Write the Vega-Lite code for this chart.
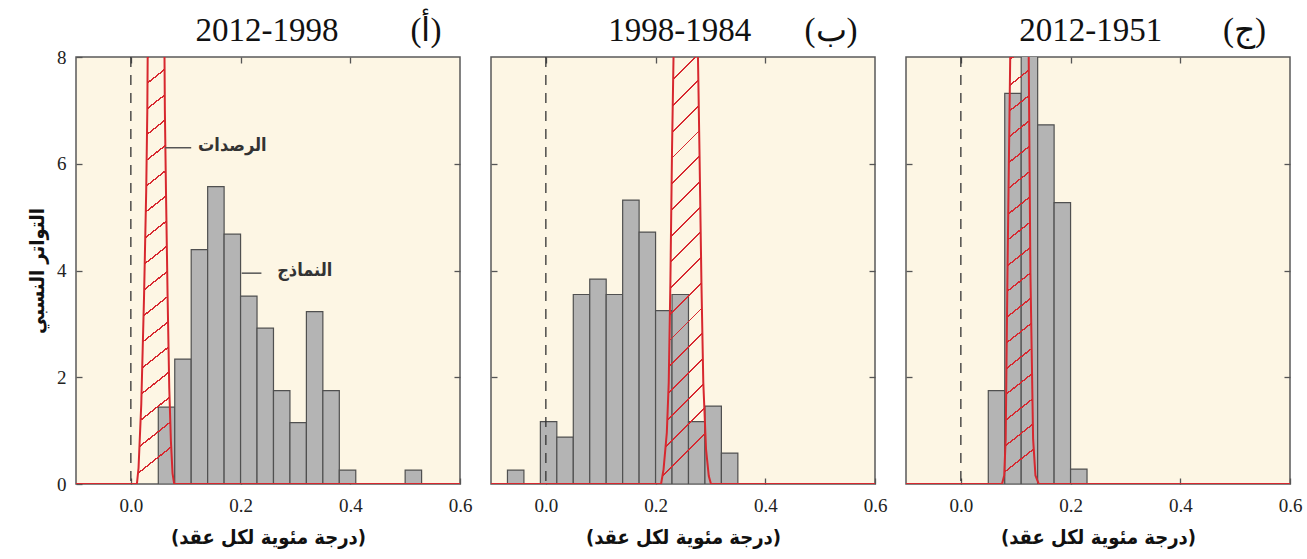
{
  "$schema": "https://vega.github.io/schema/vega-lite/v6.json",
  "padding": {"left": 26, "top": 14, "right": 5, "bottom": 5},
  "background": "white",
  "datasets": {
    "bars": [
      {"panel": "a", "x0": 0.05, "x1": 0.08, "freq": 1.44},
      {"panel": "a", "x0": 0.08, "x1": 0.11, "freq": 2.34},
      {"panel": "a", "x0": 0.11, "x1": 0.14, "freq": 4.39},
      {"panel": "a", "x0": 0.14, "x1": 0.17, "freq": 5.57},
      {"panel": "a", "x0": 0.17, "x1": 0.20, "freq": 4.68},
      {"panel": "a", "x0": 0.20, "x1": 0.23, "freq": 3.52},
      {"panel": "a", "x0": 0.23, "x1": 0.26, "freq": 2.92},
      {"panel": "a", "x0": 0.26, "x1": 0.29, "freq": 1.75},
      {"panel": "a", "x0": 0.29, "x1": 0.32, "freq": 1.15},
      {"panel": "a", "x0": 0.32, "x1": 0.35, "freq": 3.23},
      {"panel": "a", "x0": 0.35, "x1": 0.38, "freq": 1.75},
      {"panel": "a", "x0": 0.38, "x1": 0.41, "freq": 0.26},
      {"panel": "a", "x0": 0.50, "x1": 0.53, "freq": 0.26},
      {"panel": "b", "x0": -0.07, "x1": -0.04, "freq": 0.26},
      {"panel": "b", "x0": -0.01, "x1": 0.02, "freq": 1.17},
      {"panel": "b", "x0": 0.02, "x1": 0.05, "freq": 0.88},
      {"panel": "b", "x0": 0.05, "x1": 0.08, "freq": 3.55},
      {"panel": "b", "x0": 0.08, "x1": 0.11, "freq": 3.84},
      {"panel": "b", "x0": 0.11, "x1": 0.14, "freq": 3.55},
      {"panel": "b", "x0": 0.14, "x1": 0.17, "freq": 5.32},
      {"panel": "b", "x0": 0.17, "x1": 0.20, "freq": 4.72},
      {"panel": "b", "x0": 0.20, "x1": 0.23, "freq": 3.25},
      {"panel": "b", "x0": 0.23, "x1": 0.26, "freq": 3.55},
      {"panel": "b", "x0": 0.26, "x1": 0.29, "freq": 1.17},
      {"panel": "b", "x0": 0.29, "x1": 0.32, "freq": 1.46},
      {"panel": "b", "x0": 0.32, "x1": 0.35, "freq": 0.58},
      {"panel": "c", "x0": 0.05, "x1": 0.08, "freq": 1.75},
      {"panel": "c", "x0": 0.08, "x1": 0.11, "freq": 7.32},
      {"panel": "c", "x0": 0.11, "x1": 0.14, "freq": 8.6},
      {"panel": "c", "x0": 0.14, "x1": 0.17, "freq": 6.73},
      {"panel": "c", "x0": 0.17, "x1": 0.20, "freq": 5.27},
      {"panel": "c", "x0": 0.20, "x1": 0.23, "freq": 0.28}
    ],
    "obs": [
      {"panel": "a", "x": -0.1, "y": 0},
      {"panel": "a", "x": 0.011, "y": 0},
      {"panel": "a", "x": 0.014, "y": 0.3},
      {"panel": "a", "x": 0.019, "y": 1.5},
      {"panel": "a", "x": 0.024, "y": 3.5},
      {"panel": "a", "x": 0.028, "y": 5.5},
      {"panel": "a", "x": 0.030, "y": 7},
      {"panel": "a", "x": 0.031, "y": 8.5},
      {"panel": "a", "x": 0.061, "y": 8.5},
      {"panel": "a", "x": 0.062, "y": 7},
      {"panel": "a", "x": 0.064, "y": 5.5},
      {"panel": "a", "x": 0.067, "y": 3.5},
      {"panel": "a", "x": 0.070, "y": 1.8},
      {"panel": "a", "x": 0.073, "y": 0.8},
      {"panel": "a", "x": 0.076, "y": 0.2},
      {"panel": "a", "x": 0.079, "y": 0},
      {"panel": "a", "x": 0.6, "y": 0},
      {"panel": "b", "x": -0.1, "y": 0},
      {"panel": "b", "x": 0.210, "y": 0},
      {"panel": "b", "x": 0.2145, "y": 0.27},
      {"panel": "b", "x": 0.2205, "y": 0.96},
      {"panel": "b", "x": 0.224, "y": 1.9},
      {"panel": "b", "x": 0.227, "y": 3.77},
      {"panel": "b", "x": 0.230, "y": 6.26},
      {"panel": "b", "x": 0.2335, "y": 8.5},
      {"panel": "b", "x": 0.2765, "y": 8.5},
      {"panel": "b", "x": 0.280, "y": 6.26},
      {"panel": "b", "x": 0.2836, "y": 3.77},
      {"panel": "b", "x": 0.287, "y": 1.9},
      {"panel": "b", "x": 0.292, "y": 0.65},
      {"panel": "b", "x": 0.297, "y": 0.15},
      {"panel": "b", "x": 0.301, "y": 0},
      {"panel": "b", "x": 0.6, "y": 0},
      {"panel": "c", "x": -0.1, "y": 0},
      {"panel": "c", "x": 0.075, "y": 0},
      {"panel": "c", "x": 0.079, "y": 0.16},
      {"panel": "c", "x": 0.0817, "y": 0.84},
      {"panel": "c", "x": 0.085, "y": 3.96},
      {"panel": "c", "x": 0.0906, "y": 8.5},
      {"panel": "c", "x": 0.1233, "y": 8.5},
      {"panel": "c", "x": 0.1268, "y": 3.96},
      {"panel": "c", "x": 0.1317, "y": 0.84},
      {"panel": "c", "x": 0.136, "y": 0.16},
      {"panel": "c", "x": 0.142, "y": 0},
      {"panel": "c", "x": 0.6, "y": 0}
    ],
    "leaders": [
      {"x": 0.062, "x2": 0.110, "y": 6.3},
      {"x": 0.202, "x2": 0.238, "y": 3.95}
    ],
    "notes": [
      {"text": "الرصدات", "x": 0.185, "y": 6.34},
      {"text": "النماذج", "x": 0.317, "y": 3.99}
    ],
    "heads": [
      {"panel": "a", "text": "2012-1998", "x": 0.248, "y": 8.48},
      {"panel": "a", "text": "(أ)", "x": 0.538, "y": 8.48},
      {"panel": "b", "text": "1998-1984", "x": 0.244, "y": 8.48},
      {"panel": "b", "text": "(ب)", "x": 0.52, "y": 8.48},
      {"panel": "c", "text": "2012-1951", "x": 0.237, "y": 8.48},
      {"panel": "c", "text": "(ج)", "x": 0.517, "y": 8.48}
    ]
  },
  "spacing": 31,
  "bounds": "flush",
  "hconcat": [
    {
      "width": 384, "height": 427,
      "resolve": {"axis": {"x": "independent", "y": "independent"}},
      "layer": [
        {
          "data": {"name": "bars"},
          "transform": [{"filter": "datum.panel == 'a'"}],
          "mark": {"type": "rect", "fill": "#b4b4b4", "stroke": "#505050", "strokeWidth": 1.2, "clip": true},
          "encoding": {
            "x": {"field": "x0", "type": "quantitative", "scale": {"domain": [-0.1, 0.6], "nice": false, "zero": false}, "axis": {"orient": "bottom", "values": [0, 0.2, 0.4, 0.6], "format": ".1f", "title": "(درجة مئوية لكل عقد)"}},
            "x2": {"field": "x1"},
            "y": {"field": "freq", "type": "quantitative", "scale": {"domain": [0, 8], "nice": false}, "axis": {"orient": "left", "values": [0, 2, 4, 6, 8], "title": "التواتر النسبي"}},
            "y2": {"datum": 0}
          }
        },
        {
          "data": {"values": [{}]},
          "mark": {"type": "rule", "strokeDash": [10, 8], "color": "#333333", "strokeWidth": 1.3},
          "encoding": {"x": {"datum": 0, "type": "quantitative", "axis": null}}
        },
        {
          "data": {"name": "obs"},
          "transform": [{"filter": "datum.panel == 'a' && datum.x > -0.1 && datum.x < 0.6"}],
          "mark": {"type": "area", "clip": true, "fill": {"gradient": "linear", "x1": 0, "y1": 0, "x2": 0.065, "y2": 1, "stops": [
            {"offset": 0, "color": "rgba(215,40,47,0)"},
            {"offset": 0.02, "color": "rgba(215,40,47,0)"}, {"offset": 0.02, "color": "#d7282f"}, {"offset": 0.024, "color": "#d7282f"}, {"offset": 0.024, "color": "rgba(215,40,47,0)"},
            {"offset": 0.076, "color": "rgba(215,40,47,0)"}, {"offset": 0.076, "color": "#d7282f"}, {"offset": 0.08, "color": "#d7282f"}, {"offset": 0.08, "color": "rgba(215,40,47,0)"},
            {"offset": 0.132, "color": "rgba(215,40,47,0)"}, {"offset": 0.132, "color": "#d7282f"}, {"offset": 0.136, "color": "#d7282f"}, {"offset": 0.136, "color": "rgba(215,40,47,0)"},
            {"offset": 0.188, "color": "rgba(215,40,47,0)"}, {"offset": 0.188, "color": "#d7282f"}, {"offset": 0.192, "color": "#d7282f"}, {"offset": 0.192, "color": "rgba(215,40,47,0)"},
            {"offset": 0.244, "color": "rgba(215,40,47,0)"}, {"offset": 0.244, "color": "#d7282f"}, {"offset": 0.248, "color": "#d7282f"}, {"offset": 0.248, "color": "rgba(215,40,47,0)"},
            {"offset": 0.3, "color": "rgba(215,40,47,0)"}, {"offset": 0.3, "color": "#d7282f"}, {"offset": 0.304, "color": "#d7282f"}, {"offset": 0.304, "color": "rgba(215,40,47,0)"},
            {"offset": 0.356, "color": "rgba(215,40,47,0)"}, {"offset": 0.356, "color": "#d7282f"}, {"offset": 0.36, "color": "#d7282f"}, {"offset": 0.36, "color": "rgba(215,40,47,0)"},
            {"offset": 0.412, "color": "rgba(215,40,47,0)"}, {"offset": 0.412, "color": "#d7282f"}, {"offset": 0.416, "color": "#d7282f"}, {"offset": 0.416, "color": "rgba(215,40,47,0)"},
            {"offset": 0.468, "color": "rgba(215,40,47,0)"}, {"offset": 0.468, "color": "#d7282f"}, {"offset": 0.472, "color": "#d7282f"}, {"offset": 0.472, "color": "rgba(215,40,47,0)"},
            {"offset": 0.524, "color": "rgba(215,40,47,0)"}, {"offset": 0.524, "color": "#d7282f"}, {"offset": 0.528, "color": "#d7282f"}, {"offset": 0.528, "color": "rgba(215,40,47,0)"},
            {"offset": 0.58, "color": "rgba(215,40,47,0)"}, {"offset": 0.58, "color": "#d7282f"}, {"offset": 0.584, "color": "#d7282f"}, {"offset": 0.584, "color": "rgba(215,40,47,0)"},
            {"offset": 0.636, "color": "rgba(215,40,47,0)"}, {"offset": 0.636, "color": "#d7282f"}, {"offset": 0.64, "color": "#d7282f"}, {"offset": 0.64, "color": "rgba(215,40,47,0)"},
            {"offset": 0.692, "color": "rgba(215,40,47,0)"}, {"offset": 0.692, "color": "#d7282f"}, {"offset": 0.696, "color": "#d7282f"}, {"offset": 0.696, "color": "rgba(215,40,47,0)"},
            {"offset": 0.748, "color": "rgba(215,40,47,0)"}, {"offset": 0.748, "color": "#d7282f"}, {"offset": 0.752, "color": "#d7282f"}, {"offset": 0.752, "color": "rgba(215,40,47,0)"},
            {"offset": 0.804, "color": "rgba(215,40,47,0)"}, {"offset": 0.804, "color": "#d7282f"}, {"offset": 0.808, "color": "#d7282f"}, {"offset": 0.808, "color": "rgba(215,40,47,0)"},
            {"offset": 0.86, "color": "rgba(215,40,47,0)"}, {"offset": 0.86, "color": "#d7282f"}, {"offset": 0.864, "color": "#d7282f"}, {"offset": 0.864, "color": "rgba(215,40,47,0)"},
            {"offset": 0.916, "color": "rgba(215,40,47,0)"}, {"offset": 0.916, "color": "#d7282f"}, {"offset": 0.92, "color": "#d7282f"}, {"offset": 0.92, "color": "rgba(215,40,47,0)"},
            {"offset": 0.972, "color": "rgba(215,40,47,0)"}, {"offset": 0.972, "color": "#d7282f"}, {"offset": 0.976, "color": "#d7282f"}, {"offset": 0.976, "color": "rgba(215,40,47,0)"},
            {"offset": 1, "color": "rgba(215,40,47,0)"}
          ]}},
          "encoding": {
            "x": {"field": "x", "type": "quantitative", "axis": null},
            "y": {"field": "y", "type": "quantitative", "axis": null}
          }
        },
        {
          "data": {"name": "obs"},
          "transform": [{"filter": "datum.panel == 'a'"}],
          "mark": {"type": "line", "color": "#d7282f", "strokeWidth": 2, "clip": true},
          "encoding": {
            "x": {"field": "x", "type": "quantitative", "axis": {"orient": "top", "values": [0, 0.2, 0.4], "labels": false, "title": null}},
            "y": {"field": "y", "type": "quantitative", "axis": {"orient": "right", "values": [2, 4, 6], "labels": false, "title": null}}
          }
        },
        {
          "data": {"name": "leaders"},
          "mark": {"type": "rule", "color": "#555555", "strokeWidth": 1.5},
          "encoding": {
            "x": {"field": "x", "type": "quantitative", "axis": null},
            "x2": {"field": "x2"},
            "y": {"field": "y", "type": "quantitative", "axis": null}
          }
        },
        {
          "data": {"name": "notes"},
          "mark": {"type": "text", "font": "DejaVu Sans Condensed", "fontSize": 18, "fontWeight": "bold", "color": "#333333", "align": "center", "baseline": "middle"},
          "encoding": {
            "x": {"field": "x", "type": "quantitative", "axis": null},
            "y": {"field": "y", "type": "quantitative", "axis": null},
            "text": {"field": "text"}
          }
        },
        {
          "data": {"name": "heads"},
          "transform": [{"filter": "datum.panel == 'a'"}],
          "mark": {"type": "text", "font": "Liberation Serif", "fontSize": 33, "color": "#111111", "align": "center", "baseline": "middle"},
          "encoding": {
            "x": {"field": "x", "type": "quantitative", "axis": null},
            "y": {"field": "y", "type": "quantitative", "axis": null},
            "text": {"field": "text"}
          }
        }
      ]
    },
    {
      "width": 384, "height": 427,
      "resolve": {"axis": {"x": "independent", "y": "independent"}},
      "layer": [
        {
          "data": {"name": "bars"},
          "transform": [{"filter": "datum.panel == 'b'"}],
          "mark": {"type": "rect", "fill": "#b4b4b4", "stroke": "#505050", "strokeWidth": 1.2, "clip": true},
          "encoding": {
            "x": {"field": "x0", "type": "quantitative", "scale": {"domain": [-0.1, 0.6], "nice": false, "zero": false}, "axis": {"orient": "bottom", "values": [0, 0.2, 0.4, 0.6], "format": ".1f", "title": "(درجة مئوية لكل عقد)"}},
            "x2": {"field": "x1"},
            "y": {"field": "freq", "type": "quantitative", "scale": {"domain": [0, 8], "nice": false}, "axis": {"orient": "left", "values": [2, 4, 6], "labels": false, "title": null}},
            "y2": {"datum": 0}
          }
        },
        {
          "data": {"values": [{}]},
          "mark": {"type": "rule", "strokeDash": [10, 8], "color": "#333333", "strokeWidth": 1.3},
          "encoding": {"x": {"datum": 0, "type": "quantitative", "axis": null}}
        },
        {
          "data": {"name": "obs"},
          "transform": [{"filter": "datum.panel == 'b' && datum.x > -0.1 && datum.x < 0.6"}],
          "mark": {"type": "area", "clip": true, "fill": {"gradient": "linear", "x1": 0, "y1": 0, "x2": 0.11, "y2": 1, "stops": [
            {"offset": 0, "color": "rgba(215,40,47,0)"},
            {"offset": 0.02, "color": "rgba(215,40,47,0)"}, {"offset": 0.02, "color": "#d7282f"}, {"offset": 0.024, "color": "#d7282f"}, {"offset": 0.024, "color": "rgba(215,40,47,0)"},
            {"offset": 0.076, "color": "rgba(215,40,47,0)"}, {"offset": 0.076, "color": "#d7282f"}, {"offset": 0.08, "color": "#d7282f"}, {"offset": 0.08, "color": "rgba(215,40,47,0)"},
            {"offset": 0.132, "color": "rgba(215,40,47,0)"}, {"offset": 0.132, "color": "#d7282f"}, {"offset": 0.136, "color": "#d7282f"}, {"offset": 0.136, "color": "rgba(215,40,47,0)"},
            {"offset": 0.188, "color": "rgba(215,40,47,0)"}, {"offset": 0.188, "color": "#d7282f"}, {"offset": 0.192, "color": "#d7282f"}, {"offset": 0.192, "color": "rgba(215,40,47,0)"},
            {"offset": 0.244, "color": "rgba(215,40,47,0)"}, {"offset": 0.244, "color": "#d7282f"}, {"offset": 0.248, "color": "#d7282f"}, {"offset": 0.248, "color": "rgba(215,40,47,0)"},
            {"offset": 0.3, "color": "rgba(215,40,47,0)"}, {"offset": 0.3, "color": "#d7282f"}, {"offset": 0.304, "color": "#d7282f"}, {"offset": 0.304, "color": "rgba(215,40,47,0)"},
            {"offset": 0.356, "color": "rgba(215,40,47,0)"}, {"offset": 0.356, "color": "#d7282f"}, {"offset": 0.36, "color": "#d7282f"}, {"offset": 0.36, "color": "rgba(215,40,47,0)"},
            {"offset": 0.412, "color": "rgba(215,40,47,0)"}, {"offset": 0.412, "color": "#d7282f"}, {"offset": 0.416, "color": "#d7282f"}, {"offset": 0.416, "color": "rgba(215,40,47,0)"},
            {"offset": 0.468, "color": "rgba(215,40,47,0)"}, {"offset": 0.468, "color": "#d7282f"}, {"offset": 0.472, "color": "#d7282f"}, {"offset": 0.472, "color": "rgba(215,40,47,0)"},
            {"offset": 0.524, "color": "rgba(215,40,47,0)"}, {"offset": 0.524, "color": "#d7282f"}, {"offset": 0.528, "color": "#d7282f"}, {"offset": 0.528, "color": "rgba(215,40,47,0)"},
            {"offset": 0.58, "color": "rgba(215,40,47,0)"}, {"offset": 0.58, "color": "#d7282f"}, {"offset": 0.584, "color": "#d7282f"}, {"offset": 0.584, "color": "rgba(215,40,47,0)"},
            {"offset": 0.636, "color": "rgba(215,40,47,0)"}, {"offset": 0.636, "color": "#d7282f"}, {"offset": 0.64, "color": "#d7282f"}, {"offset": 0.64, "color": "rgba(215,40,47,0)"},
            {"offset": 0.692, "color": "rgba(215,40,47,0)"}, {"offset": 0.692, "color": "#d7282f"}, {"offset": 0.696, "color": "#d7282f"}, {"offset": 0.696, "color": "rgba(215,40,47,0)"},
            {"offset": 0.748, "color": "rgba(215,40,47,0)"}, {"offset": 0.748, "color": "#d7282f"}, {"offset": 0.752, "color": "#d7282f"}, {"offset": 0.752, "color": "rgba(215,40,47,0)"},
            {"offset": 0.804, "color": "rgba(215,40,47,0)"}, {"offset": 0.804, "color": "#d7282f"}, {"offset": 0.808, "color": "#d7282f"}, {"offset": 0.808, "color": "rgba(215,40,47,0)"},
            {"offset": 0.86, "color": "rgba(215,40,47,0)"}, {"offset": 0.86, "color": "#d7282f"}, {"offset": 0.864, "color": "#d7282f"}, {"offset": 0.864, "color": "rgba(215,40,47,0)"},
            {"offset": 0.916, "color": "rgba(215,40,47,0)"}, {"offset": 0.916, "color": "#d7282f"}, {"offset": 0.92, "color": "#d7282f"}, {"offset": 0.92, "color": "rgba(215,40,47,0)"},
            {"offset": 0.972, "color": "rgba(215,40,47,0)"}, {"offset": 0.972, "color": "#d7282f"}, {"offset": 0.976, "color": "#d7282f"}, {"offset": 0.976, "color": "rgba(215,40,47,0)"},
            {"offset": 1, "color": "rgba(215,40,47,0)"}
          ]}},
          "encoding": {
            "x": {"field": "x", "type": "quantitative", "axis": null},
            "y": {"field": "y", "type": "quantitative", "axis": null}
          }
        },
        {
          "data": {"name": "obs"},
          "transform": [{"filter": "datum.panel == 'b'"}],
          "mark": {"type": "line", "color": "#d7282f", "strokeWidth": 2, "clip": true},
          "encoding": {
            "x": {"field": "x", "type": "quantitative", "axis": {"orient": "top", "values": [0, 0.2, 0.4], "labels": false, "title": null}},
            "y": {"field": "y", "type": "quantitative", "axis": {"orient": "right", "values": [2, 4, 6], "labels": false, "title": null}}
          }
        },
        {
          "data": {"name": "heads"},
          "transform": [{"filter": "datum.panel == 'b'"}],
          "mark": {"type": "text", "font": "Liberation Serif", "fontSize": 33, "color": "#111111", "align": "center", "baseline": "middle"},
          "encoding": {
            "x": {"field": "x", "type": "quantitative", "axis": null},
            "y": {"field": "y", "type": "quantitative", "axis": null},
            "text": {"field": "text"}
          }
        }
      ]
    },
    {
      "width": 384, "height": 427,
      "resolve": {"axis": {"x": "independent", "y": "independent"}},
      "layer": [
        {
          "data": {"name": "bars"},
          "transform": [{"filter": "datum.panel == 'c'"}],
          "mark": {"type": "rect", "fill": "#b4b4b4", "stroke": "#505050", "strokeWidth": 1.2, "clip": true},
          "encoding": {
            "x": {"field": "x0", "type": "quantitative", "scale": {"domain": [-0.1, 0.6], "nice": false, "zero": false}, "axis": {"orient": "bottom", "values": [0, 0.2, 0.4, 0.6], "format": ".1f", "title": "(درجة مئوية لكل عقد)"}},
            "x2": {"field": "x1"},
            "y": {"field": "freq", "type": "quantitative", "scale": {"domain": [0, 8], "nice": false}, "axis": {"orient": "left", "values": [2, 4, 6], "labels": false, "title": null}},
            "y2": {"datum": 0}
          }
        },
        {
          "data": {"values": [{}]},
          "mark": {"type": "rule", "strokeDash": [10, 8], "color": "#333333", "strokeWidth": 1.3},
          "encoding": {"x": {"datum": 0, "type": "quantitative", "axis": null}}
        },
        {
          "data": {"name": "obs"},
          "transform": [{"filter": "datum.panel == 'c' && datum.x > -0.1 && datum.x < 0.6"}],
          "mark": {"type": "area", "clip": true, "fill": {"gradient": "linear", "x1": 0, "y1": 0, "x2": 0.064, "y2": 1, "stops": [
            {"offset": 0, "color": "rgba(215,40,47,0)"},
            {"offset": 0.02, "color": "rgba(215,40,47,0)"}, {"offset": 0.02, "color": "#d7282f"}, {"offset": 0.024, "color": "#d7282f"}, {"offset": 0.024, "color": "rgba(215,40,47,0)"},
            {"offset": 0.076, "color": "rgba(215,40,47,0)"}, {"offset": 0.076, "color": "#d7282f"}, {"offset": 0.08, "color": "#d7282f"}, {"offset": 0.08, "color": "rgba(215,40,47,0)"},
            {"offset": 0.132, "color": "rgba(215,40,47,0)"}, {"offset": 0.132, "color": "#d7282f"}, {"offset": 0.136, "color": "#d7282f"}, {"offset": 0.136, "color": "rgba(215,40,47,0)"},
            {"offset": 0.188, "color": "rgba(215,40,47,0)"}, {"offset": 0.188, "color": "#d7282f"}, {"offset": 0.192, "color": "#d7282f"}, {"offset": 0.192, "color": "rgba(215,40,47,0)"},
            {"offset": 0.244, "color": "rgba(215,40,47,0)"}, {"offset": 0.244, "color": "#d7282f"}, {"offset": 0.248, "color": "#d7282f"}, {"offset": 0.248, "color": "rgba(215,40,47,0)"},
            {"offset": 0.3, "color": "rgba(215,40,47,0)"}, {"offset": 0.3, "color": "#d7282f"}, {"offset": 0.304, "color": "#d7282f"}, {"offset": 0.304, "color": "rgba(215,40,47,0)"},
            {"offset": 0.356, "color": "rgba(215,40,47,0)"}, {"offset": 0.356, "color": "#d7282f"}, {"offset": 0.36, "color": "#d7282f"}, {"offset": 0.36, "color": "rgba(215,40,47,0)"},
            {"offset": 0.412, "color": "rgba(215,40,47,0)"}, {"offset": 0.412, "color": "#d7282f"}, {"offset": 0.416, "color": "#d7282f"}, {"offset": 0.416, "color": "rgba(215,40,47,0)"},
            {"offset": 0.468, "color": "rgba(215,40,47,0)"}, {"offset": 0.468, "color": "#d7282f"}, {"offset": 0.472, "color": "#d7282f"}, {"offset": 0.472, "color": "rgba(215,40,47,0)"},
            {"offset": 0.524, "color": "rgba(215,40,47,0)"}, {"offset": 0.524, "color": "#d7282f"}, {"offset": 0.528, "color": "#d7282f"}, {"offset": 0.528, "color": "rgba(215,40,47,0)"},
            {"offset": 0.58, "color": "rgba(215,40,47,0)"}, {"offset": 0.58, "color": "#d7282f"}, {"offset": 0.584, "color": "#d7282f"}, {"offset": 0.584, "color": "rgba(215,40,47,0)"},
            {"offset": 0.636, "color": "rgba(215,40,47,0)"}, {"offset": 0.636, "color": "#d7282f"}, {"offset": 0.64, "color": "#d7282f"}, {"offset": 0.64, "color": "rgba(215,40,47,0)"},
            {"offset": 0.692, "color": "rgba(215,40,47,0)"}, {"offset": 0.692, "color": "#d7282f"}, {"offset": 0.696, "color": "#d7282f"}, {"offset": 0.696, "color": "rgba(215,40,47,0)"},
            {"offset": 0.748, "color": "rgba(215,40,47,0)"}, {"offset": 0.748, "color": "#d7282f"}, {"offset": 0.752, "color": "#d7282f"}, {"offset": 0.752, "color": "rgba(215,40,47,0)"},
            {"offset": 0.804, "color": "rgba(215,40,47,0)"}, {"offset": 0.804, "color": "#d7282f"}, {"offset": 0.808, "color": "#d7282f"}, {"offset": 0.808, "color": "rgba(215,40,47,0)"},
            {"offset": 0.86, "color": "rgba(215,40,47,0)"}, {"offset": 0.86, "color": "#d7282f"}, {"offset": 0.864, "color": "#d7282f"}, {"offset": 0.864, "color": "rgba(215,40,47,0)"},
            {"offset": 0.916, "color": "rgba(215,40,47,0)"}, {"offset": 0.916, "color": "#d7282f"}, {"offset": 0.92, "color": "#d7282f"}, {"offset": 0.92, "color": "rgba(215,40,47,0)"},
            {"offset": 0.972, "color": "rgba(215,40,47,0)"}, {"offset": 0.972, "color": "#d7282f"}, {"offset": 0.976, "color": "#d7282f"}, {"offset": 0.976, "color": "rgba(215,40,47,0)"},
            {"offset": 1, "color": "rgba(215,40,47,0)"}
          ]}},
          "encoding": {
            "x": {"field": "x", "type": "quantitative", "axis": null},
            "y": {"field": "y", "type": "quantitative", "axis": null}
          }
        },
        {
          "data": {"name": "obs"},
          "transform": [{"filter": "datum.panel == 'c'"}],
          "mark": {"type": "line", "color": "#d7282f", "strokeWidth": 2, "clip": true},
          "encoding": {
            "x": {"field": "x", "type": "quantitative", "axis": {"orient": "top", "values": [0, 0.2, 0.4], "labels": false, "title": null}},
            "y": {"field": "y", "type": "quantitative", "axis": {"orient": "right", "values": [2, 4, 6], "labels": false, "title": null}}
          }
        },
        {
          "data": {"name": "heads"},
          "transform": [{"filter": "datum.panel == 'c'"}],
          "mark": {"type": "text", "font": "Liberation Serif", "fontSize": 33, "color": "#111111", "align": "center", "baseline": "middle"},
          "encoding": {
            "x": {"field": "x", "type": "quantitative", "axis": null},
            "y": {"field": "y", "type": "quantitative", "axis": null},
            "text": {"field": "text"}
          }
        }
      ]
    }
  ],
  "config": {
    "view": {"fill": "#fdf6e4", "stroke": "#5a5a5a", "strokeWidth": 1.5},
    "axis": {"grid": false, "domain": false, "tickColor": "#555555", "tickSize": -6, "tickWidth": 1.3, "labelFont": "Liberation Sans Narrow", "labelFontSize": 19, "labelColor": "#222222", "labelFlush": false, "titleFont": "DejaVu Sans Condensed", "titleFontWeight": "bold", "titleFontSize": 20, "titleColor": "#111111"},
    "axisLeft": {"labelPadding": 16, "titlePadding": 9},
    "axisBottom": {"labelPadding": 18, "titlePadding": 12}
  }
}
